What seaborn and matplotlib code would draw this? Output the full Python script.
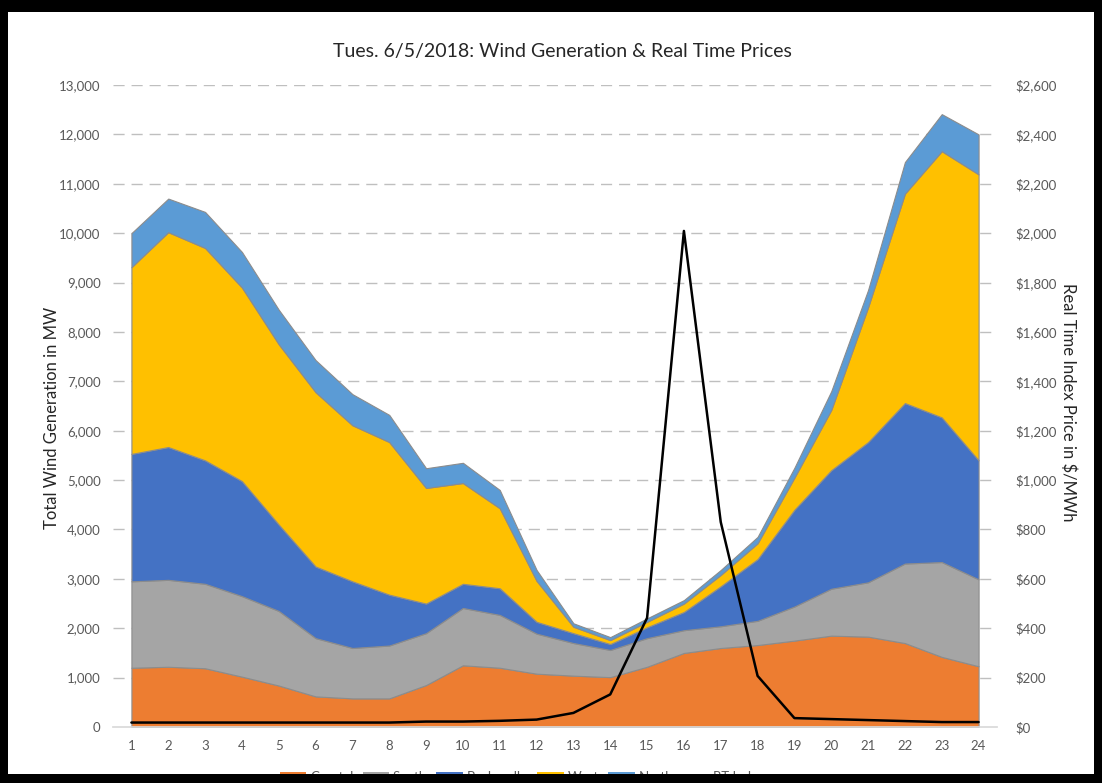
import numpy as np
import pandas as pd
import seaborn as sns
import matplotlib.pyplot as plt
from matplotlib.patches import Patch, Rectangle
from matplotlib.lines import Line2D

hours = list(range(1, 25))

# cumulative tops (MW)
coastal_top = [1200, 1220, 1190, 1020, 840, 620, 580, 580, 850, 1250, 1200, 1080,
               1040, 1010, 1220, 1500, 1600, 1660, 1750, 1850, 1830, 1700, 1420, 1230]
south_top = [2950, 2980, 2900, 2650, 2350, 1800, 1600, 1650, 1900, 2410, 2270, 1890,
             1700, 1560, 1800, 1960, 2040, 2150, 2440, 2800, 2930, 3310, 3340, 2990]
panhandle_top = [5530, 5670, 5400, 4980, 4100, 3250, 2950, 2680, 2500, 2900, 2810, 2130,
                 1900, 1680, 2020, 2330, 2850, 3400, 4400, 5200, 5770, 6560, 6270, 5400]
west_top = [9310, 10020, 9700, 8900, 7750, 6780, 6110, 5770, 4840, 4940, 4430, 2960,
            2030, 1760, 2130, 2500, 3080, 3720, 5050, 6420, 8500, 10800, 11660, 11190]
north_top = [10000, 10700, 10430, 9620, 8450, 7430, 6740, 6320, 5240, 5350, 4800, 3180,
             2100, 1820, 2200, 2570, 3180, 3850, 5250, 6800, 8850, 11440, 12410, 12000]

rt_index = [18, 18, 18, 18, 18, 18, 18, 18, 22, 22, 25, 30,
            57, 132, 442, 2009, 830, 207, 36, 32, 28, 24, 20, 20]

coastal = np.array(coastal_top)
south = np.array(south_top) - np.array(coastal_top)
panhandle = np.array(panhandle_top) - np.array(south_top)
west = np.array(west_top) - np.array(panhandle_top)
north = np.array(north_top) - np.array(west_top)

names = ["Coastal", "South", "Panhandle", "West", "North"]
colors = ["#ED7D31", "#A5A5A5", "#4472C4", "#FFC000", "#5B9BD5"]

sns.set_theme(style="white")
plt.rcParams['font.family'] = ['Lato', 'DejaVu Sans']

fig = plt.figure(figsize=(11.02, 7.83), dpi=100)
ax = fig.add_axes([113 / 1102, 1 - 727 / 783, 884 / 1102, 642 / 783])

ax.stackplot(hours, coastal, south, panhandle, west, north, colors=colors,
             edgecolor="#8c8c8c", linewidth=0.8, zorder=2)
ax.set_xlim(0.5, 24.5)
ax.set_ylim(0, 13000)
ax.set_yticks(range(0, 13001, 1000))
ax.set_yticklabels([f"{v:,}" for v in range(0, 13001, 1000)])
ax.set_xticks(hours)
for y in range(1000, 13001, 1000):
    ax.axhline(y, color="#bfbfbf", lw=1.0, ls=(0, (8, 5)), zorder=1)
for s in ["left", "right", "top"]:
    ax.spines[s].set_visible(False)
ax.spines["bottom"].set_color("#d9d9d9")
ax.tick_params(axis="y", length=0, pad=9, labelsize=9.5, labelcolor="#595959")
ax.tick_params(axis="x", length=0, pad=9, labelsize=9.5, labelcolor="#595959")

ax2 = ax.twinx()
df = pd.DataFrame({"hour": hours, "price": rt_index})
sns.lineplot(data=df, x="hour", y="price", ax=ax2, color="black", lw=1.8, zorder=5)
ax2.set_ylim(0, 2600)
ax2.set_yticks(range(0, 2601, 200))
ax2.set_yticklabels([f"${v:,}" for v in range(0, 2601, 200)])
ax2.set_ylabel("")
ax2.set_xlabel("")
ax.set_xlabel("")
for s in ax2.spines.values():
    s.set_visible(False)
ax2.tick_params(axis="y", length=0, pad=13, labelsize=9.5, labelcolor="#595959")

fig.text(0.51, 1 - 51 / 783, "Tues. 6/5/2018: Wind Generation & Real Time Prices",
         ha="center", va="center", fontsize=14, color="#262626")
fig.text(52 / 1102, 1 - 418 / 783, "Total Wind Generation in MW", rotation=90,
         ha="center", va="center", fontsize=12, color="#262626")
fig.text(1068 / 1102, 1 - 402 / 783, "Real Time Index Price in $/MWh", rotation=-90,
         ha="center", va="center", fontsize=12, color="#262626")

handles = [Patch(facecolor=c, edgecolor="none", label=n) for c, n in zip(colors, names)]
handles.append(Line2D([0], [0], color="black", lw=1.8, label="RT Index"))
fig.legend(handles=handles, loc="center", bbox_to_anchor=(522 / 1102, 1 - 777 / 783),
           ncol=6, frameon=False, fontsize=9.5, handlelength=2.0, handletextpad=0.3,
           columnspacing=0.7, labelcolor="#595959")

# black frame around the screenshot
for r in [(0, 1 - 12 / 783, 1, 12 / 783), (0, 0, 1, 9 / 783),
          (0, 0, 8 / 1102, 1), (1094 / 1102, 0, 8 / 1102, 1)]:
    fig.patches.append(Rectangle(r[:2], r[2], r[3], transform=fig.transFigure,
                                 facecolor="black", edgecolor="none", zorder=100))

fig.savefig("out.png", dpi=100)
